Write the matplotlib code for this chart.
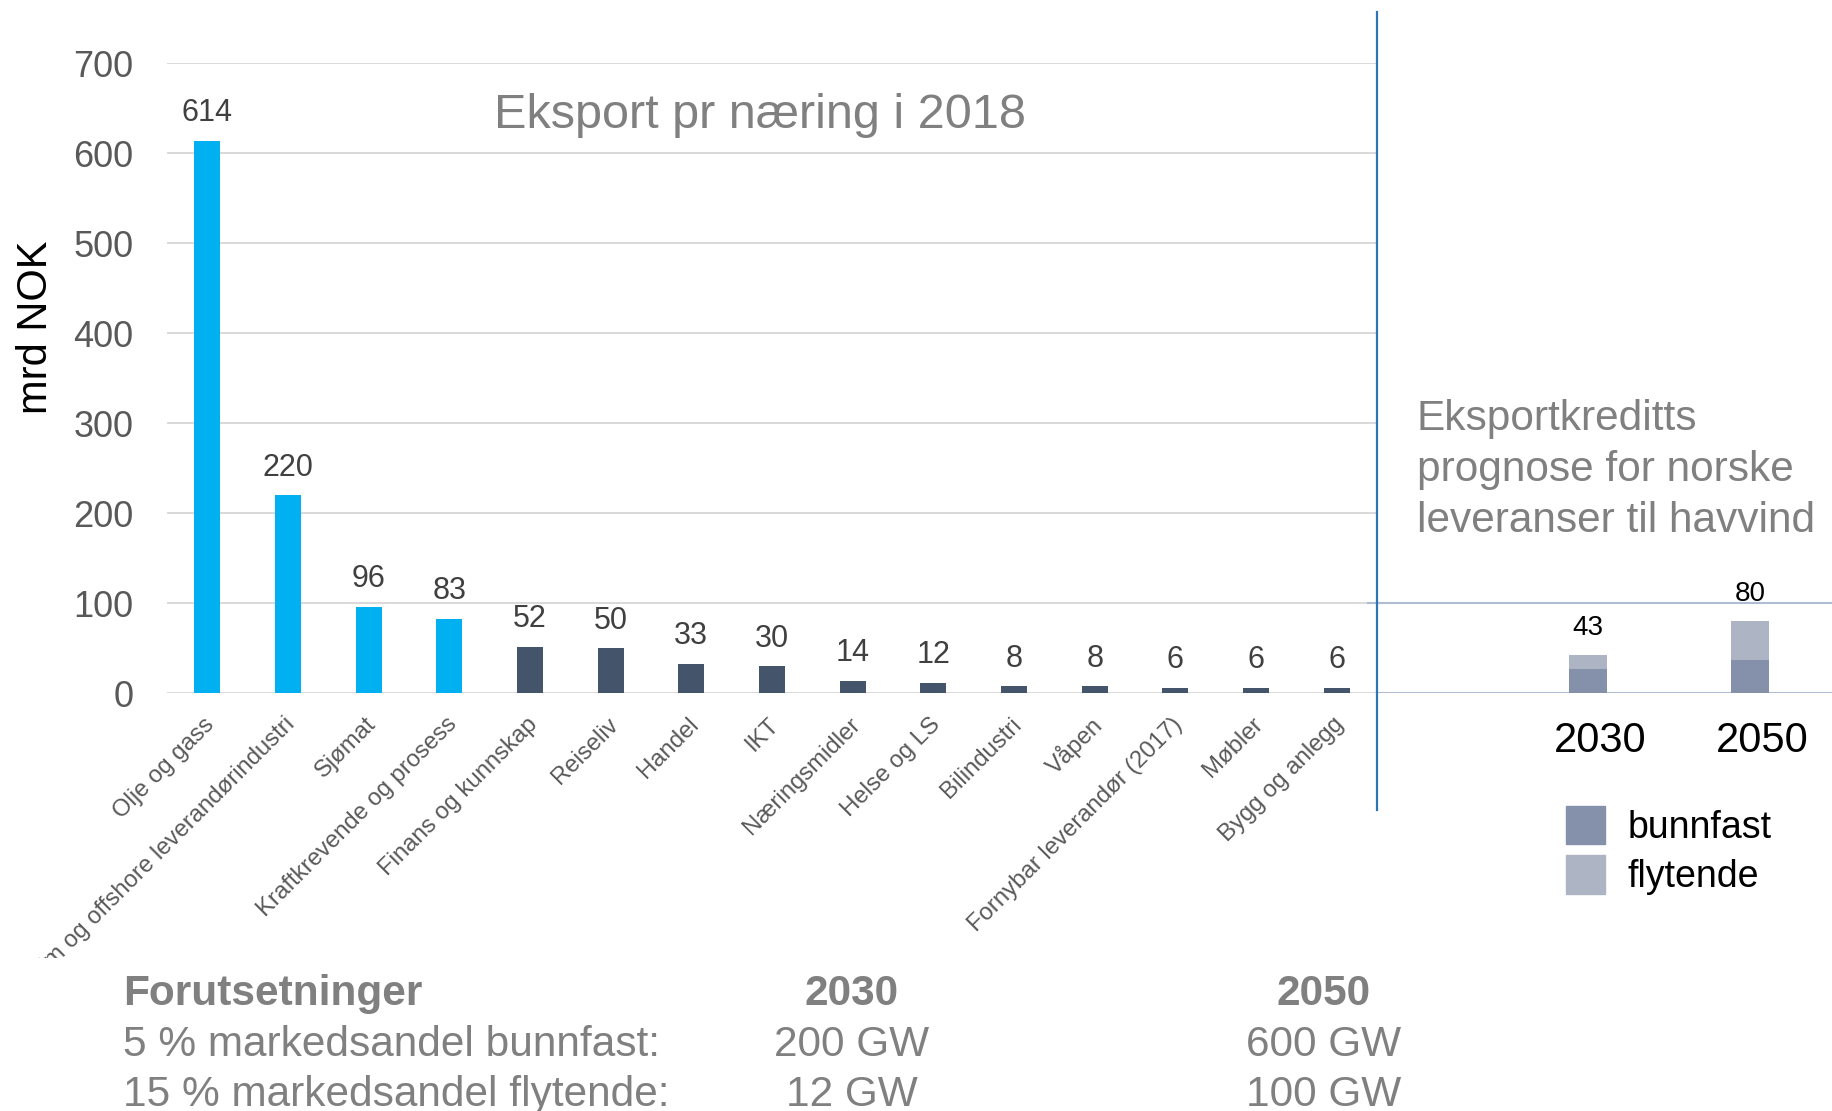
import matplotlib
matplotlib.use('Agg')
import matplotlib.pyplot as plt
from matplotlib.lines import Line2D
from matplotlib.patches import Patch
import matplotlib.transforms as mtransforms
import numpy as np

plt.rcParams['font.family'] = ['Liberation Sans', 'DejaVu Sans']

#---Eksport pr naering i 2018 (mrd NOK)
sectors = ['Olje og gass', 'Maritim og offshore leverandørindustri', 'Sjømat',
           'Kraftkrevende og prosess', 'Finans og kunnskap', 'Reiseliv', 'Handel',
           'IKT', 'Næringsmidler', 'Helse og LS', 'Bilindustri', 'Våpen',
           'Fornybar leverandør (2017)', 'Møbler', 'Bygg og anlegg']
export_2018 = [614, 220, 96, 83, 52, 50, 33, 30, 14, 12, 8, 8, 6, 6, 6]
n_highlight = 4

#---Eksportkreditt prognose havvind
years = ['2030', '2050']
bunnfast = [27, 37]
flytende = [16, 43]

#---Forutsetninger
table_header = ['Forutsetninger', '2030', '2050']
table_rows = [['5 % markedsandel bunnfast:', '200 GW', '600 GW'],
              ['15 % markedsandel flytende:', '12 GW', '100 GW']]

W, H = 1833, 1111
def fx(x):
    return x / W
def fy(y):
    return 1 - y / H

light_blue = '#00B0F0'
dark_blue = '#44546A'
grey_txt = '#595959'
grey_lbl = '#808080'

fig = plt.figure(figsize=(W / 100, H / 100), dpi=100)

#---Main chart
ax = fig.add_axes([fx(167), fy(693.3), 1210 / W, 630 / H])
x = np.arange(len(sectors))
colors = [light_blue if i < n_highlight else dark_blue for i in range(len(sectors))]
bars = ax.bar(x, export_2018, width=0.32, color=colors, zorder=3)
ax.bar_label(bars, padding=9, fontsize=22, color='#404040')
ax.set_xlim(-0.5, len(sectors) - 0.5)
ax.set_ylim(0, 700)
ax.set_yticks(range(0, 701, 100))
ax.yaxis.grid(True, color='#D9D9D9', lw=1.4, zorder=0)
ax.set_axisbelow(True)
for s in ax.spines.values():
    s.set_visible(False)
ax.tick_params(axis='both', length=0)
ax.tick_params(axis='y', labelsize=26, labelcolor=grey_txt, pad=24)
ax.set_xticks(x)
ax.set_xticklabels(sectors, rotation=45, ha='right', va='center',
                   rotation_mode='anchor', fontsize=17.2, color=grey_txt)
ax.tick_params(axis='x', pad=20)
#---labels are cut at the bottom of the chart frame (above the table)
offset = mtransforms.ScaledTranslation(0.04, 0, fig.dpi_scale_trans)
clip = mtransforms.TransformedBbox(mtransforms.Bbox([[0, fy(958)], [1, 1]]), fig.transFigure)
for lbl in ax.get_xticklabels():
    lbl.set_transform(lbl.get_transform() + offset)
    lbl.set_clip_box(clip)
    lbl.set_clip_on(True)

fig.text(fx(36), fy(327), 'mrd NOK', rotation=90, ha='center', va='center',
         fontsize=30, color='black')
fig.text(fx(760), fy(115), 'Eksport pr næring i 2018', ha='center', va='center',
         fontsize=35, color=grey_lbl)

#---Right panel
ax2 = fig.add_axes([fx(1377), fy(693.3), 456 / W, 630 / H])
xx = np.arange(len(years))
b1 = ax2.bar(xx, bunnfast, width=0.235, color='#8591AA', zorder=3)
b2 = ax2.bar(xx, flytende, width=0.235, bottom=bunnfast, color='#ADB5C5', zorder=3)
totals = [a + b for a, b in zip(bunnfast, flytende)]
ax2.bar_label(b2, labels=[str(t) for t in totals], padding=10, fontsize=20, color='black')
ax2.set_xlim(-1.302, 1.512)
ax2.set_ylim(0, 700)
ax2.axhline(0, color='#B0BCD4', lw=1.5, zorder=2)
ax2.axhline(100, xmin=-0.02, color='#B0BCD4', lw=1.5, zorder=2, clip_on=False)
for s in ax2.spines.values():
    s.set_visible(False)
ax2.set_yticks([])
ax2.set_xticks(xx)
ax2.set_xticklabels(years, fontsize=30, color='black')
ax2.tick_params(axis='x', length=0, pad=20)
offset2 = mtransforms.ScaledTranslation(0.12, 0, fig.dpi_scale_trans)
for lbl in ax2.get_xticklabels():
    lbl.set_transform(lbl.get_transform() + offset2)

fig.legend(handles=[Patch(color='#8591AA', label='bunnfast'),
                    Patch(color='#ADB5C5', label='flytende')],
           loc='upper left', bbox_to_anchor=(fx(1566), fy(806)), frameon=False,
           fontsize=27, handlelength=1.05, handleheight=1.2, handletextpad=0.6,
           labelspacing=0.25, borderpad=0, borderaxespad=0)

right_lines = ['Eksportkreditts', 'prognose for norske', 'leveranser til havvind']
for i, line in enumerate(right_lines):
    fig.text(fx(1417), fy(430 + 51 * i), line, ha='left', va='baseline',
             fontsize=30.5, color=grey_lbl)

#---Divider
fig.add_artist(Line2D([fx(1377), fx(1377)], [fy(810), fy(12)], color='#2E75B6', lw=1.6))

#---Forutsetninger table
col_x = [123, 852, 1324]
row_y = [1005, 1056, 1106]
for j, txt in enumerate(table_header):
    fig.text(fx(col_x[j]), fy(row_y[0]), txt, ha='left' if j == 0 else 'center',
             va='baseline', fontsize=30.5, fontweight='bold', color=grey_lbl)
for i, row in enumerate(table_rows):
    for j, txt in enumerate(row):
        fig.text(fx(col_x[j]), fy(row_y[i + 1]), txt, ha='left' if j == 0 else 'center',
                 va='baseline', fontsize=30.5, color=grey_lbl)

fig.savefig('out.png', dpi=100)
